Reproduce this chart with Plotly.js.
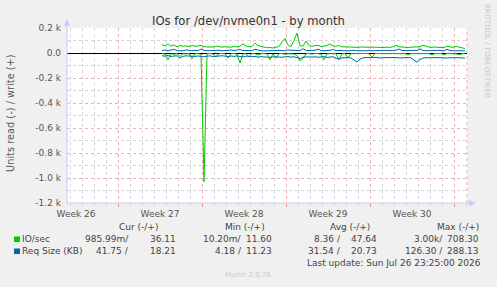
<!DOCTYPE html>
<html>
<head>
<meta charset="utf-8">
<script src="https://cdn.plot.ly/plotly-3.0.1.min.js"></script>
<style>
  html, body { margin: 0; padding: 0; background: #F0F0F0; }
  #chart { width: 497px; height: 287px; }
</style>
</head>
<body>
<div id="chart"></div>
<script>
// ---- time axis (days from left edge of the graph) ----
const RANGE_DAYS = 33.333;
const DATA_START_DAY = 7.917;   // first sample
const SAMPLE_STEP_DAY = 0.25;   // 6-hour averages
const weekLabels = ["Week 26", "Week 27", "Week 28", "Week 29", "Week 30"];
const weekLabelDays = [0.75, 7.75, 14.75, 21.75, 28.75];
const weekStartDay = 4.25;

// ---- y axis ticks ----
const yTickVals = [200, 0, -200, -400, -600, -800, -1000, -1200];
const yTickText = ["0.2 k", "0.0", "-0.2 k", "-0.4 k", "-0.6 k", "-0.8 k", "-1.0 k", "-1.2 k"];

// ---- series: IO/sec ----
const ioWrite = [66,58,72,55,64,50,60,54,57,52,60,54,56,62,50,48,50,47,55,48,
  47,50,48,46,52,49,55,74,56,50,52,78,60,52,46,42,44,40,46,52,
  88,118,62,52,100,160,58,55,96,60,54,56,62,52,55,60,72,58,54,60,
  50,48,46,48,47,45,48,46,50,46,47,45,48,46,44,47,45,50,62,50,
  47,48,44,47,46,49,50,62,52,47,45,48,45,46,44,54,47,45,53,46,
  45,36];
const ioRead = [-5,-8,-54,-6,-10,-4,-28,-5,-8,-4,-45,-6,-4,-12,-1030,-6,-4,-8,-32,-5,
  -4,-6,-40,-5,-4,-10,-80,-8,-5,-30,-4,-6,-18,-5,-4,-8,-54,-6,-40,-5,
  -4,-10,-6,-4,-8,-20,-61,-45,-6,-4,-8,-5,-4,-12,-54,-6,-4,-8,-5,-56,
  -6,-4,-40,-5,-4,-6,-4,-5,-4,-6,-32,-4,-5,-4,-6,-4,-5,-4,-6,-4,
  -5,-4,-16,-4,-5,-4,-6,-4,-5,-4,-15,-4,-5,-4,-15,-4,-5,-4,-6,-13,
  -4,-1];

// ---- series: Req Size (KB) ----
const rqWrite = [20,24,18,22,30,19,21,17,26,20,18,22,19,32,21,18,20,17,19,22,
  18,20,17,24,19,21,28,20,18,22,19,30,21,18,17,19,20,18,22,21,
  19,18,26,20,22,19,18,34,21,20,18,22,30,20,18,19,22,28,19,21,
  18,20,17,19,22,18,20,19,17,21,18,20,19,18,21,20,18,19,22,32,
  20,18,19,21,18,20,33,21,18,20,19,18,21,19,17,30,20,18,19,20,
  18,18];
const rqRead = [-22,-25,-20,-28,-24,-22,-40,-26,-23,-25,-22,-27,-24,-26,-30,-25,-23,-28,-24,-26,
  -22,-25,-30,-24,-27,-23,-26,-32,-25,-28,-30,-27,-33,-29,-31,-28,-35,-30,-32,-29,
  -34,-31,-28,-33,-30,-36,-45,-32,-29,-31,-33,-30,-34,-31,-29,-35,-32,-30,-42,-48,
  -38,-35,-37,-40,-58,-72,-50,-38,-36,-39,-37,-35,-38,-40,-37,-36,-39,-38,-36,-40,
  -37,-38,-36,-39,-60,-74,-52,-40,-38,-37,-39,-36,-38,-37,-40,-38,-36,-39,-37,-38,
  -36,-40];

// ---- legend table ----
const legendNames = ["IO/sec", "Req Size (KB)"];
const legendColors = ["#00CC00", "#0066B3"];
const curNeg = ["985.99m/", "41.75 /"], curPos = ["36.11", "18.21"];
const minNeg = ["10.20m/", "4.18 /"],   minPos = ["11.60", "11.23"];
const avgNeg = ["8.36 /", "31.54 /"],   avgPos = ["47.64", "20.73"];
const maxNeg = ["3.00k/", "126.30 /"],  maxPos = ["708.30", "288.13"];
const headers = ["Cur (-/+)", "Min (-/+)", "Avg (-/+)", "Max (-/+)"];

const xs = ioWrite.map((_, i) => DATA_START_DAY + i * SAMPLE_STEP_DAY);

const GREEN = legendColors[0], BLUE = legendColors[1];
const traces = [
  {x: xs, y: ioRead,  type: 'scatter', mode: 'lines', line: {color: GREEN, width: 1}, hoverinfo: 'skip'},
  {x: xs, y: ioWrite, type: 'scatter', mode: 'lines', line: {color: GREEN, width: 1}, hoverinfo: 'skip'},
  {x: xs, y: rqRead,  type: 'scatter', mode: 'lines', line: {color: BLUE, width: 1}, hoverinfo: 'skip'},
  {x: xs, y: rqWrite, type: 'scatter', mode: 'lines', line: {color: BLUE, width: 1}, hoverinfo: 'skip'},
  {x: [0], y: [0], xaxis: 'x2', type: 'scatter', mode: 'markers', marker: {opacity: 0}, hoverinfo: 'skip'}
];

// pixel helpers -> paper coords (plot area: x 67..467, y 28..203)
const PX = p => (p - 67) / 400;
const PY = p => (203 - p) / 175;

const TXT = '#444';
const ann = [];
function A(text, xp, yp, anchor, size, color, extra) {
  ann.push(Object.assign({text: text, x: PX(xp), y: PY(yp), xref: 'paper', yref: 'paper',
    xanchor: anchor, yanchor: 'middle', showarrow: false, borderpad: 0,
    font: {family: 'DejaVu Sans', size: size, color: color}}, extra || {}));
}
A("IOs for /dev/nvme0n1 - by month", 248, 21, 'center', 11.6, '#333');
A("Units read (-) / write (+)", 10, 113, 'center', 9.8, '#555', {textangle: -90});
A("RRDTOOL / TOBI OETIKER", 488, 51, 'center', 7.3, '#c8c8c8', {textangle: 90});
const headerRight = [159, 266, 371, 480];
headers.forEach((h, k) => A(h, headerRight[k], 227, 'right', 9, TXT));
const rowY = [239, 251];
legendNames.forEach((n, r) => {
  A(n, 21, rowY[r], 'left', 9, TXT);
  A(curNeg[r], 130, rowY[r], 'right', 9, TXT); A(curPos[r], 177, rowY[r], 'right', 9, TXT);
  A(minNeg[r], 243, rowY[r], 'right', 9, TXT); A(minPos[r], 273, rowY[r], 'right', 9, TXT);
  A(avgNeg[r], 342, rowY[r], 'right', 9, TXT); A(avgPos[r], 378, rowY[r], 'right', 9, TXT);
  A(maxNeg[r], 444, rowY[r], 'right', 9, TXT); A(maxPos[r], 480, rowY[r], 'right', 9, TXT);
});
A("Last update: Sun Jul 26 23:25:00 2026", 482, 263, 'right', 9, TXT);
A("Munin 2.0.76", 248, 275, 'center', 7, '#c8c8c8');

const AX = '#c8c8ff';
const shapes = [
  // legend colour squares
  {type: 'rect', xref: 'paper', yref: 'paper', x0: PX(14), x1: PX(20), y0: PY(242), y1: PY(236.5), fillcolor: GREEN, line: {width: 0}},
  {type: 'rect', xref: 'paper', yref: 'paper', x0: PX(14), x1: PX(20), y0: PY(254), y1: PY(248.5), fillcolor: BLUE, line: {width: 0}},
  // right border dotted
  {type: 'line', xref: 'paper', yref: 'paper', x0: 1, x1: 1, y0: 0, y1: 1, line: {color: '#eab0b0', width: 1, dash: 'dot'}},
  // axis lines with arrows
  {type: 'line', xref: 'paper', yref: 'paper', x0: 0, x1: 0, y0: 0, y1: PY(25), line: {color: AX, width: 1}},
  {type: 'path', xref: 'paper', yref: 'paper', path: `M ${PX(64)} ${PY(26)} L ${PX(70)} ${PY(26)} L ${PX(67)} ${PY(19)} Z`, fillcolor: AX, line: {width: 0}},
  {type: 'line', xref: 'paper', yref: 'paper', x0: 0, x1: PX(470), y0: 0, y1: 0, line: {color: AX, width: 1}},
  {type: 'path', xref: 'paper', yref: 'paper', path: `M ${PX(469)} ${PY(200)} L ${PX(469)} ${PY(206)} L ${PX(476)} ${PY(203)} Z`, fillcolor: AX, line: {width: 0}}
];

const layout = {
  width: 497, height: 287,
  margin: {l: 67, r: 30, t: 28, b: 84, pad: 0},
  paper_bgcolor: '#F0F0F0', plot_bgcolor: '#FFFFFF',
  showlegend: false,
  font: {family: 'DejaVu Sans', size: 9, color: '#555'},
  xaxis: {
    range: [0, RANGE_DAYS], tickvals: weekLabelDays, ticktext: weekLabels,
    showgrid: false, zeroline: false, showline: false, ticks: '', ticklabelstandoff: 4,
    tickfont: {size: 9, color: '#555'}, fixedrange: true
  },
  xaxis2: {
    overlaying: 'x', side: 'bottom', range: [0, RANGE_DAYS],
    tick0: weekStartDay, dtick: 7, showticklabels: false,
    showgrid: true, gridcolor: '#eab0b0', griddash: 'dot', gridwidth: 1,
    ticks: 'outside', ticklen: 3, tickcolor: '#f09090',
    minor: {tick0: weekStartDay, dtick: 1, showgrid: true, gridcolor: '#d4d4d4', griddash: 'dot', ticks: 'outside', ticklen: 2, tickcolor: '#d0d0d0'},
    zeroline: false, showline: false, fixedrange: true
  },
  yaxis: {
    range: [-1200, 200], tickvals: yTickVals, ticktext: yTickText,
    showgrid: true, gridcolor: '#eab0b0', griddash: 'dot', gridwidth: 1,
    minor: {dtick: 100, tick0: 0, showgrid: true, gridcolor: '#d4d4d4', griddash: 'dot'},
    zeroline: true, zerolinecolor: '#000000', zerolinewidth: 1,
    showline: false, ticks: '', ticklabelstandoff: 5,
    tickfont: {size: 9, color: '#555'}, fixedrange: true
  },
  annotations: ann,
  shapes: shapes
};

Plotly.newPlot('chart', traces, layout, {staticPlot: true, displayModeBar: false});
</script>
</body>
</html>
